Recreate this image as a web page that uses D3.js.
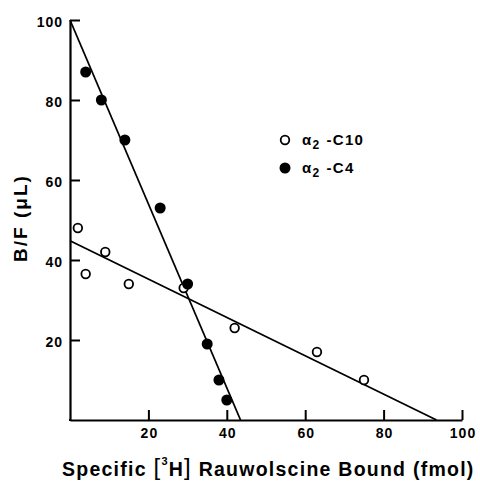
<!DOCTYPE html>
<html><head><meta charset="utf-8">
<script src="https://cdnjs.cloudflare.com/ajax/libs/d3/7.8.5/d3.min.js"></script>
<style>
body{margin:0;background:#fff;}
text{font-family:"Liberation Sans",Arial,sans-serif;font-weight:bold;fill:#000;}
</style></head>
<body><svg id="c" width="480" height="483"></svg>
<script>
const xTicks = [20, 40, 60, 80, 100];
const yTicks = [20, 40, 60, 80, 100];
const c4X = [4, 8, 14, 23, 30, 35, 38, 40];
const c4Y = [87, 80, 70, 53, 34, 19, 10, 5];
const c10X = [2, 4, 9, 15, 29, 42, 63, 75];
const c10Y = [48, 36.5, 42, 34, 33, 23, 17, 10];
const c4Line = [[0, 100], [43.5, 0]];
const c10Line = [[0, 44.8], [93.5, 0]];
const seriesNames = ["C10", "C4"];

const svg = d3.select("#c");
const x = d3.scaleLinear().domain([0, 100]).range([70, 462]);
const y = d3.scaleLinear().domain([0, 100]).range([420, 20]);

// axes
const gx = svg.append("g").attr("transform", "translate(0,420)")
  .call(d3.axisBottom(x).tickValues(xTicks).tickSize(-10).tickPadding(8).tickSizeOuter(0));
gx.select(".domain").attr("stroke", "#000").attr("stroke-width", 2.2);
gx.selectAll(".tick line").attr("stroke", "#000").attr("stroke-width", 2);
gx.selectAll(".tick text").attr("font-size", 14).attr("font-family", "Liberation Sans").attr("font-weight", "bold")
  .attr("letter-spacing", 1).attr("dx", 0.5);
const gy = svg.append("g").attr("transform", "translate(70,0)")
  .call(d3.axisLeft(y).tickValues(yTicks).tickSize(-10).tickPadding(7).tickSizeOuter(0));
gy.select(".domain").attr("stroke", "#000").attr("stroke-width", 2.2);
gy.selectAll(".tick line").attr("stroke", "#000").attr("stroke-width", 2);
gy.selectAll(".tick text").attr("font-size", 14).attr("font-family", "Liberation Sans").attr("font-weight", "bold")
  .attr("letter-spacing", 1).attr("dy", "0.45em");
svg.append("line").attr("x1", 69).attr("x2", 71).attr("y1", 420).attr("y2", 420).attr("stroke", "#000").attr("stroke-width", 2.2);

// lines
const lineGen = d3.line().x(d => x(d[0])).y(d => y(d[1]));
[c4Line, c10Line].forEach(l => svg.append("path").attr("d", lineGen(l)).attr("fill", "none").attr("stroke", "#000").attr("stroke-width", 1.8));

// points
svg.selectAll(".c10").data(c10X.map((v, i) => [v, c10Y[i]])).enter().append("circle")
  .attr("cx", d => x(d[0])).attr("cy", d => y(d[1])).attr("r", 4.3)
  .attr("fill", "#fff").attr("stroke", "#000").attr("stroke-width", 1.8);
svg.selectAll(".c4").data(c4X.map((v, i) => [v, c4Y[i]])).enter().append("circle")
  .attr("cx", d => x(d[0])).attr("cy", d => y(d[1])).attr("r", 5.5)
  .attr("fill", "#000");

// legend
const lg = svg.append("g");
lg.append("circle").attr("cx", 285).attr("cy", 140).attr("r", 4.3).attr("fill", "#fff").attr("stroke", "#000").attr("stroke-width", 1.8);
lg.append("circle").attr("cx", 285).attr("cy", 168).attr("r", 5.5).attr("fill", "#000");
seriesNames.forEach((n, i) => {
  const t = lg.append("text").attr("x", 302).attr("y", 145 + i * 28).attr("font-size", 15).attr("letter-spacing", 1.3);
  t.append("tspan").text("α");
  t.append("tspan").attr("font-size", 12).attr("dy", 4).text("2");
  t.append("tspan").attr("dy", -4).attr("dx", 6).text("-" + n);
});

// axis titles
svg.append("text").attr("transform", "translate(27,218) rotate(-90)").attr("text-anchor", "middle")
  .attr("font-size", 19).attr("letter-spacing", 2).text("B/F (μL)");
const xt = svg.append("text").attr("x", 62).attr("y", 476).attr("font-size", 19.5).attr("letter-spacing", 1.25);
xt.append("tspan").text("Specific ");
xt.append("tspan").attr("font-size", 24).attr("font-weight", "normal").attr("dy", -1).text("[");
xt.append("tspan").attr("font-size", 11).attr("dy", -10).text("3");
xt.append("tspan").attr("dy", 11).text("H");
xt.append("tspan").attr("font-size", 24).attr("font-weight", "normal").attr("dy", -1).text("]");
xt.append("tspan").attr("dy", 1).text(" Rauwolscine Bound (fmol)");
</script></body></html>
